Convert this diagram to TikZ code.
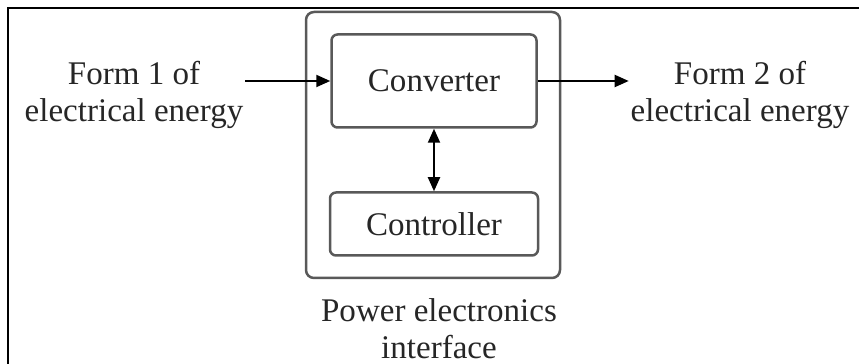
\documentclass[tikz,border=0pt]{standalone}
\usepackage{fontspec}
\setmainfont{Liberation Serif}
\usetikzlibrary{arrows.meta, positioning}

\begin{document}
\begin{tikzpicture}[x=0.1mm, y=-0.1mm, node distance=2cm, thick, >={Triangle[length=1.4mm, width=1.2mm]}]

    % Define block styles
    \tikzstyle{block} = [rectangle, draw=black!65, line width=0.25mm, rounded corners=0.6mm,
        minimum width=20.5mm, minimum height=9.3mm, text=black!85]
    \tikzstyle{frame} = [rectangle, draw=black!65, line width=0.25mm, rounded corners=0.8mm,
        minimum width=25.4mm, minimum height=26.6mm]
    \tikzstyle{txt} = [align=center, text=black!85, inner sep=0.2mm, outer sep=0pt]
    \tikzstyle{line} = [draw, line width=0.2mm, ->]
    \tikzset{every node/.style={font=\fontsize{9.4}{10.5}\selectfont}}

    \useasboundingbox (0,0) rectangle (859,364);
    % page border (top and left edge only)
    \draw [line width=0.2mm] (8,364) -- (8,8) -- (859,8);

    % Define nodes
    \node [frame] (pei) at (433,145) {};
    \node [block] (conv) at (434,81) {Converter};
    \node [block, below of=conv, node distance=14.3mm, minimum width=20.8mm, minimum height=6.3mm] (ctrl) {Controller};
    \node [txt, left of=conv, node distance=30mm, yshift=-1.4mm] (src) {Form 1 of\\electrical energy};
    \node [txt, right of=conv, node distance=30.6mm, yshift=-1.4mm] (dst) {Form 2 of\\electrical energy};
    \node [txt, below of=pei, node distance=18.4mm, xshift=0.6mm] (cap) {Power electronics\\interface};

    % Draw edges
    \path [line] (src.east |- conv.west) -- (conv.west);
    \path [line] (conv.east) -- (conv.east -| dst.west);
    \path [line, <->] (conv.south) -- (ctrl.north);

\end{tikzpicture}
\end{document}
